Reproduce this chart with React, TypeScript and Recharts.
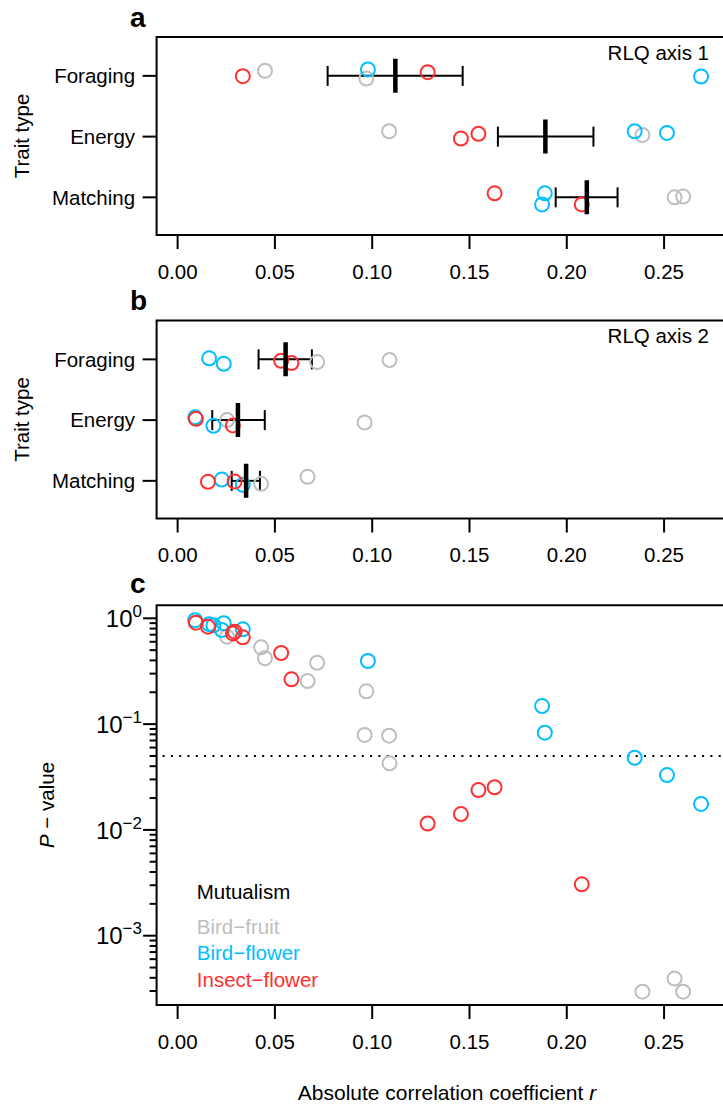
import React from 'react';
import { ScatterChart, Scatter, XAxis, YAxis, ReferenceArea, ReferenceLine, ErrorBar } from 'recharts';

const FONT = '"Liberation Sans", Arial, Helvetica, sans-serif';
const GRAY = '#BEBEBE';
const BLUE = '#00BFFF';
const RED = '#FF3030';

// ---------- shared axes ----------
const traitTypes = ['Matching', 'Energy', 'Foraging'];
const traitPos = [1, 2, 3];
const xTicks = [0, 0.05, 0.1, 0.15, 0.2, 0.25];
const xDomain: [number, number] = [-0.0108, 0.2808];
const rowDomain: [number, number] = [0.38, 3.64];

// ---------- panel a (RLQ axis 1): |r| and jittered row position ----------
const aFruitR = [0.0449, 0.097, 0.1087, 0.2389, 0.2554, 0.2598];
const aFruitRow = [3.083, 2.957, 2.088, 2.028, 1.0, 1.012];
const aBirdFlowerR = [0.0978, 0.269, 0.2349, 0.2515, 0.1887, 0.1873];
const aBirdFlowerRow = [3.106, 2.99, 2.088, 2.061, 1.066, 0.884];
const aInsectR = [0.0335, 0.1285, 0.1456, 0.1546, 0.1629, 0.2077];
const aInsectRow = [2.995, 3.061, 1.967, 2.045, 1.066, 0.884];
// means per trait type (Matching, Energy, Foraging) and error limits
const aMean = [0.2103, 0.189, 0.1119];
const aLow = [0.1943, 0.1646, 0.0771];
const aHigh = [0.2261, 0.2137, 0.1465];

// ---------- panel b (RLQ axis 2) ----------
const bFruitR = [0.0717, 0.1089, 0.0254, 0.0961, 0.0429, 0.0668];
const bFruitRow = [2.955, 2.988, 2.0, 1.962, 0.951, 1.066];
const bBirdFlowerR = [0.0162, 0.0237, 0.009, 0.0184, 0.0227, 0.0335];
const bBirdFlowerRow = [3.017, 2.927, 2.045, 1.906, 1.021, 0.934];
const bInsectR = [0.0532, 0.0585, 0.0094, 0.0284, 0.0156, 0.0293];
const bInsectRow = [2.977, 2.939, 2.021, 1.912, 0.984, 0.988];
const bMean = [0.0352, 0.031, 0.0555];
const bLow = [0.0278, 0.0178, 0.0416];
const bHigh = [0.0423, 0.0448, 0.069];

// ---------- panel c: P-values (same order as the r arrays above) ----------
const aFruitP = [0.419, 0.204, 0.0777, 0.000296, 0.000393, 0.000296];
const bFruitP = [0.38, 0.0426, 0.67, 0.079, 0.532, 0.255];
const aBirdFlowerP = [0.395, 0.0176, 0.0481, 0.033, 0.083, 0.148];
const bBirdFlowerP = [0.88, 0.9, 0.96, 0.86, 0.775, 0.787];
const aInsectP = [0.661, 0.0115, 0.0141, 0.0238, 0.0253, 0.00306];
const bInsectP = [0.47, 0.265, 0.91, 0.72, 0.833, 0.747];

const pDomain: [number, number] = [0.0002213, 1.3272];
const pMajor = [0.001, 0.01, 0.1, 1];
const pMajorExp = ['\u22123', '\u22122', '\u22121', '0'];
const pMinor = [
  0.0003, 0.0004, 0.0005, 0.0006, 0.0007, 0.0008, 0.0009,
  0.002, 0.003, 0.004, 0.005, 0.006, 0.007, 0.008, 0.009,
  0.02, 0.03, 0.04, 0.05, 0.06, 0.07, 0.08, 0.09,
  0.2, 0.3, 0.4, 0.5, 0.6, 0.7, 0.8, 0.9,
];
const pThreshold = 0.05;

const legendTitle = 'Mutualism';
const legendNames = ['Bird\u2212fruit', 'Bird\u2212flower', 'Insect\u2212flower'];
const legendColors = [GRAY, BLUE, RED];

// ---------- helpers ----------
const rows = (r: number[], y: number[]) => r.map((x, i) => ({ x, y: y[i] }));
const means = (m: number[], lo: number[], hi: number[]) =>
  traitPos.map((y, i) => ({ x: m[i], y, err: [m[i] - lo[i], hi[i] - m[i]] }));

const ring = (color: string) => (props: any) =>
  <circle cx={props.cx} cy={props.cy} r={7} fill="none" stroke={color} strokeWidth={2} />;

const meanTick = (props: any) =>
  <line x1={props.cx} x2={props.cx} y1={props.cy - 17} y2={props.cy + 17} stroke="#000" strokeWidth={4.5} />;

const XTick = (props: any) => (
  <text x={props.x} y={props.y + 29.5} textAnchor="middle" fontSize={20.5} fontFamily={FONT} fill="#000">
    {Number(props.payload.value).toFixed(2)}
  </text>
);

const RowTick = (props: any) => {
  const idx = traitPos.indexOf(props.payload.value);
  return (
    <text x={props.x - 7.5} y={props.y + 7.3} textAnchor="end" fontSize={20.5} fontFamily={FONT} fill="#000">
      {traitTypes[idx]}
    </text>
  );
};

const LogTick = (props: any) => {
  const v = props.payload.value;
  const mi = pMajor.indexOf(v);
  const len = mi >= 0 ? 13.5 : 7;
  return (
    <g>
      <line x1={props.x} x2={props.x - len} y1={props.y} y2={props.y} stroke="#000" strokeWidth={2} />
      {mi >= 0 && (
        <text x={props.x - 14.6} y={props.y + 8.6} textAnchor="end" fontSize={24} fontFamily={FONT} fill="#000">
          10<tspan fontSize={17} dy={-10}>{pMajorExp[mi]}</tspan>
        </text>
      )}
    </g>
  );
};

const W = 740;
const H = 1105;
const PLOT_LEFT = 156.6;
const XAX_H = 50;

const xAxisEl = (
  <XAxis
    type="number"
    dataKey="x"
    domain={xDomain}
    allowDataOverflow
    ticks={xTicks}
    interval={0}
    tickSize={14}
    tickMargin={0}
    axisLine={false}
    tickLine={{ stroke: '#000', strokeWidth: 2 }}
    tick={XTick}
    height={XAX_H}
  />
);

function RowPanel(props: {
  top: number; height: number;
  fruit: any[]; bird: any[]; insect: any[]; meanData: any[];
}) {
  const { top, height } = props;
  return (
    <div style={{ position: 'absolute', left: 0, top: 0 }}>
      <ScatterChart
        width={W}
        height={H}
        margin={{ top, right: W - 724, left: 0, bottom: H - top - height - XAX_H }}
      >
        {xAxisEl}
        <YAxis
          type="number"
          dataKey="y"
          domain={rowDomain}
          allowDataOverflow
          ticks={traitPos}
          interval={0}
          width={PLOT_LEFT}
          tickSize={14}
          tickMargin={0}
          axisLine={false}
          tickLine={{ stroke: '#000', strokeWidth: 2 }}
          tick={RowTick}
        />
        <ReferenceArea x1={xDomain[0]} x2={xDomain[1]} y1={rowDomain[0]} y2={rowDomain[1]}
          fill="none" stroke="#000" strokeWidth={2} ifOverflow="visible" />
        <Scatter data={props.fruit} shape={ring(GRAY)} isAnimationActive={false} />
        <Scatter data={props.bird} shape={ring(BLUE)} isAnimationActive={false} />
        <Scatter data={props.insect} shape={ring(RED)} isAnimationActive={false} />
        <Scatter data={props.meanData} shape={meanTick} isAnimationActive={false}>
          <ErrorBar dataKey="err" direction="x" width={10} stroke="#000" strokeWidth={2} isAnimationActive={false} />
        </Scatter>
      </ScatterChart>
    </div>
  );
}

function PPanel() {
  const top = 605.3;
  const height = 399.7;
  const fruit = [...aFruitR, ...bFruitR].map((x, i) => ({ x, y: [...aFruitP, ...bFruitP][i] }));
  const bird = [...aBirdFlowerR, ...bBirdFlowerR].map((x, i) => ({ x, y: [...aBirdFlowerP, ...bBirdFlowerP][i] }));
  const insect = [...aInsectR, ...bInsectR].map((x, i) => ({ x, y: [...aInsectP, ...bInsectP][i] }));
  const allTicks = [...pMinor, ...pMajor].sort((a, b) => a - b);
  return (
    <div style={{ position: 'absolute', left: 0, top: 0 }}>
      <ScatterChart
        width={W}
        height={H}
        margin={{ top, right: W - 724, left: 0, bottom: H - top - height - XAX_H }}
      >
        {xAxisEl}
        <YAxis
          type="number"
          dataKey="y"
          scale="log"
          domain={pDomain}
          allowDataOverflow
          ticks={allTicks}
          interval={0}
          width={PLOT_LEFT}
          tickSize={0}
          tickMargin={0}
          axisLine={false}
          tickLine={false}
          tick={LogTick}
        />
        <ReferenceArea x1={xDomain[0]} x2={xDomain[1]} y1={pDomain[0]} y2={pDomain[1]}
          fill="none" stroke="#000" strokeWidth={2} ifOverflow="visible" />
        <ReferenceLine y={pThreshold} stroke="#000" strokeWidth={2} strokeDasharray="2 6.3" strokeDashoffset={-6} />
        <Scatter data={fruit} shape={ring(GRAY)} isAnimationActive={false} />
        <Scatter data={bird} shape={ring(BLUE)} isAnimationActive={false} />
        <Scatter data={insect} shape={ring(RED)} isAnimationActive={false} />
      </ScatterChart>
    </div>
  );
}

function Annotations() {
  const t = { fontFamily: FONT, fill: '#000' } as const;
  return (
    <svg width={723} height={1105} style={{ position: 'absolute', left: 0, top: 0, pointerEvents: 'none' }}>
      <text x={130} y={27} fontSize={28} fontWeight="bold" {...t}>a</text>
      <text x={130} y={310} fontSize={28} fontWeight="bold" {...t}>b</text>
      <text x={130} y={593} fontSize={28} fontWeight="bold" {...t}>c</text>
      <text x={709} y={60} fontSize={20.5} textAnchor="end" {...t}>RLQ axis 1</text>
      <text x={709} y={343} fontSize={20.5} textAnchor="end" {...t}>RLQ axis 2</text>
      <text x={29} y={136} fontSize={20.5} textAnchor="middle" transform="rotate(-90 29 136)" {...t}>Trait type</text>
      <text x={29} y={419.5} fontSize={20.5} textAnchor="middle" transform="rotate(-90 29 419.5)" {...t}>Trait type</text>
      <text x={54} y={805} fontSize={20.5} textAnchor="middle" transform="rotate(-90 54 805)" {...t}>
        <tspan fontStyle="italic">P</tspan>{' \u2212 value'}
      </text>
      <text x={447} y={1100} fontSize={21} textAnchor="middle" {...t}>
        {'Absolute correlation coefficient  '}<tspan fontStyle="italic">r</tspan>
      </text>
      <text x={196.8} y={899} fontSize={20.5} {...t}>{legendTitle}</text>
      {legendNames.map((n, i) => (
        <text key={n} x={196.8} y={[934, 960, 986.5][i]} fontSize={20.5} fontFamily={FONT} fill={legendColors[i]}>{n}</text>
      ))}
    </svg>
  );
}

export default function App() {
  return (
    <div style={{ position: 'absolute', left: 0, top: 0, width: 723, height: 1105, overflow: 'hidden', background: '#fff' }}>
      <RowPanel top={37} height={198}
        fruit={rows(aFruitR, aFruitRow)} bird={rows(aBirdFlowerR, aBirdFlowerRow)}
        insect={rows(aInsectR, aInsectRow)} meanData={means(aMean, aLow, aHigh)} />
      <RowPanel top={320.5} height={198}
        fruit={rows(bFruitR, bFruitRow)} bird={rows(bBirdFlowerR, bBirdFlowerRow)}
        insect={rows(bInsectR, bInsectRow)} meanData={means(bMean, bLow, bHigh)} />
      <PPanel />
      <Annotations />
    </div>
  );
}
